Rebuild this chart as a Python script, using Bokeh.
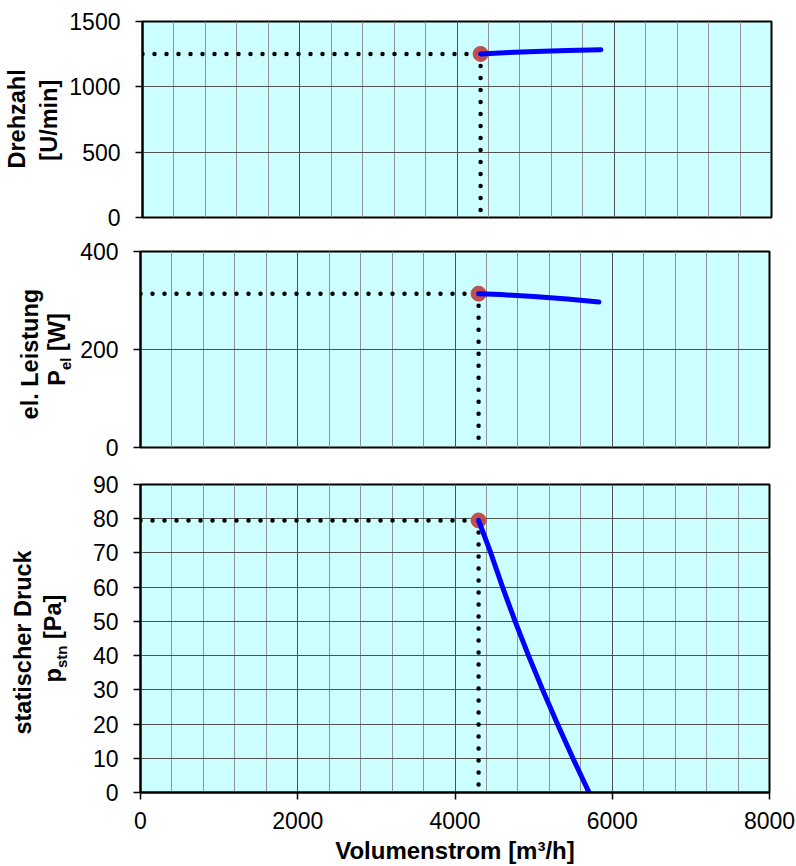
import math
from bokeh.plotting import figure
from bokeh.layouts import column, row
from bokeh.models import Range1d, SingleIntervalTicker
from bokeh.core.properties import value
from bokeh.embed import file_html
from bokeh.resources import INLINE

# ---------------- data ----------------
flow_speed = [4300, 4600, 5000, 5400, 5830]
speed = [1252, 1261, 1270, 1278, 1284]

flow_power = [4300, 4580, 5000, 5430, 5830]
power = [314, 312, 308, 303, 297]

flow_pressure = [4300, 4455, 4605, 4765, 4935, 5115, 5303, 5500, 5705]
pressure = [79.5, 70, 60, 50, 40, 30, 20, 10, 0]

op_flow = 4300
op_speed = 1252
op_power = 314
op_pressure = 79.5

x_max = 8000
x_tick_step = 2000
speed_max, speed_step = 1500, 500
power_max, power_step = 400, 200
pressure_max, pressure_step = 90, 10

x_title = "Volumenstrom [m³/h]"

# ---------------- style ----------------
FONT = "Liberation Sans"
TICK_FS = "23px"
TITLE_SIZE = 23.5
SUB_SIZE = 15
BG = "#CCFFFF"
MAJOR_GRID = "#505050"
MINOR_GRID = "#929292"
CURVE = "#0000FF"
MARKER = "#C0504D"
FRAME_W = 629
RIGHT = 27
BASELINE_FIX = 0.43  # empirical offset of rotated alphabetic baseline (em)

# approximate Arial Bold advance widths (1/1000 em)
W = {"P": 667, "e": 556, "l": 278, " ": 278, "[": 333, "W": 944, "]": 333,
     "p": 611, "s": 556, "t": 333, "n": 611, "a": 556}


def tw(s, size):
    return sum(W.get(c, 556) for c in s) * size / 1000.0


def make_fig(ymax, ystep, frame_h, top, bottom, left, show_x):
    p = figure(frame_width=FRAME_W, frame_height=frame_h,
               x_range=Range1d(0, x_max), y_range=Range1d(0, ymax),
               output_backend="svg", toolbar_location=None,
               min_border_left=left, min_border_right=RIGHT,
               min_border_top=top, min_border_bottom=bottom)
    p.background_fill_color = BG
    p.border_fill_color = "white"
    p.outline_line_color = "black"
    p.outline_line_width = 2

    xt = SingleIntervalTicker(interval=x_tick_step, num_minor_ticks=5)
    yt = SingleIntervalTicker(interval=ystep, num_minor_ticks=0)
    p.xaxis.ticker = xt
    p.yaxis.ticker = yt
    p.xgrid.ticker = xt
    p.ygrid.ticker = yt

    p.xgrid.grid_line_color = MAJOR_GRID
    p.xgrid.minor_grid_line_color = MINOR_GRID
    p.ygrid.grid_line_color = MAJOR_GRID
    p.ygrid.minor_grid_line_color = None

    for ax in (p.xaxis[0], p.yaxis[0]):
        ax.axis_line_color = "black"
        ax.axis_line_width = 2
        ax.major_tick_line_color = "black"
        ax.major_tick_line_width = 1.5
        ax.major_tick_out = 7
        ax.major_tick_in = 0
        ax.minor_tick_line_color = None
        ax.major_label_text_font = FONT
        ax.major_label_text_font_size = TICK_FS
        ax.major_label_text_color = "black"

    p.yaxis.major_label_standoff = 15
    p.xaxis.major_label_standoff = 12

    if show_x:
        p.xaxis.axis_label = x_title
        p.xaxis.axis_label_text_font = FONT
        p.xaxis.axis_label_text_font_size = "24px"
        p.xaxis.axis_label_text_font_style = "bold"
        p.xaxis.axis_label_text_color = "black"
        p.xaxis.axis_label_standoff = 5
    else:
        p.xaxis.visible = False
    return p


def title_fig(width, frame_h, top, lines):
    """Narrow figure holding the rotated two-line axis title.
    lines: list of (baseline_x, [(text, size, dx, gap_before), ...])"""
    t = figure(frame_width=width, frame_height=frame_h,
               x_range=Range1d(0, width), y_range=Range1d(0, frame_h),
               x_axis_type=None, y_axis_type=None,
               output_backend="svg", toolbar_location=None,
               min_border_left=0, min_border_right=0,
               min_border_top=top, min_border_bottom=0)
    t.grid.visible = False
    t.outline_line_color = None
    t.background_fill_color = "white"
    t.border_fill_color = "white"
    yc = frame_h / 2.0
    for bx, parts in lines:
        total = sum(tw(s, sz) + g for s, sz, _, g in parts)
        y = yc - total / 2.0
        for s, sz, dx, g in parts:
            y += g
            t.text(x=[bx + dx - BASELINE_FIX * sz], y=[y], text=[s],
                   angle=math.pi / 2,
                   text_font=value(FONT), text_font_size=value(f"{sz}px"),
                   text_font_style="bold", text_align="left",
                   text_baseline="alphabetic", text_color="black")
            y += tw(s, sz)
    return t


def draw(p, fx, fy, op_y):
    dot = dict(line_color="black", line_width=4.5, line_cap="round",
               line_dash="0 12")
    p.line([0, op_flow], [op_y, op_y], **dot)
    p.line([op_flow, op_flow], [op_y, 0], **dot)
    p.scatter([op_flow], [op_y], size=15, fill_color=MARKER,
              line_color=MARKER)
    p.line(fx, fy, line_color=CURVE, line_width=5, line_cap="round",
           line_join="round")


T = TITLE_SIZE
S = SUB_SIZE
SP = tw(" ", T)

# panel 1: Drehzahl
t1 = title_fig(66, 196, 21, [(27, [("Drehzahl", T, 0, 0)]),
                             (59, [("[U/min]", T, 0, 0)])])
p1 = make_fig(speed_max, speed_step, 196, 21, 16, 74, False)
draw(p1, flow_speed, speed, op_speed)

# panel 2: el. Leistung
t2 = title_fig(74, 196, 18, [(40, [("el. Leistung", T, 0, 0)]),
                             (67, [("P", T, 0, 0), ("el", S, 4, 0),
                                   ("[W]", T, 0, SP)])])
p2 = make_fig(power_max, power_step, 196, 18, 20, 66, False)
draw(p2, flow_power, power, op_power)

# panel 3: statischer Druck
t3 = title_fig(70, 308, 17, [(33, [("statischer Druck", T, 0, 0)]),
                             (63, [("p", T, 0, 0), ("stn", S, 4, 0),
                                   ("[Pa]", T, 0, SP)])])
p3 = make_fig(pressure_max, pressure_step, 308, 17, 10, 70, True)
draw(p3, flow_pressure, pressure, op_pressure)

layout = column(row(t1, p1, spacing=0), row(t2, p2, spacing=0),
                row(t3, p3, spacing=0), spacing=0)

with open("out.html", "w") as f:
    f.write(file_html(layout, INLINE))
